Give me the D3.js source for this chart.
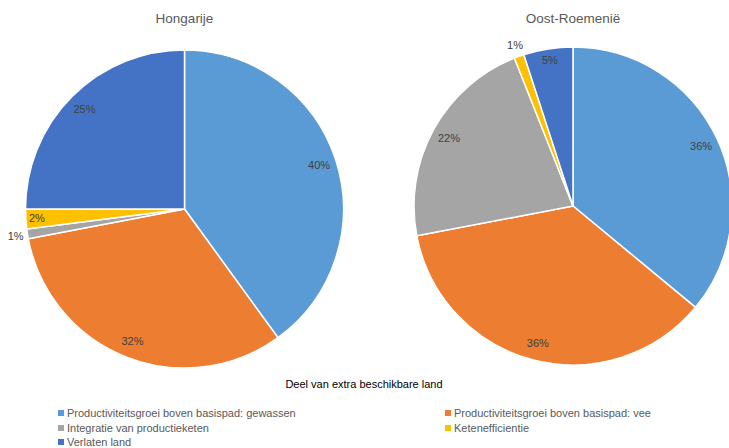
<!DOCTYPE html>
<html>
<head>
<meta charset="utf-8">
<script src="https://cdn.jsdelivr.net/npm/d3@7"></script>
<style>
  html, body { margin: 0; padding: 0; background: #fff; }
  svg { display: block; font-family: "Liberation Sans", Arial, sans-serif; }
</style>
</head>
<body>
<svg id="chart" width="729" height="448"></svg>
<script>
// Categories and shares (%) of extra available land per region
const categories = [
  "Productiviteitsgroei boven basispad: gewassen",
  "Productiviteitsgroei boven basispad: vee",
  "Integratie van productieketen",
  "Ketenefficientie",
  "Verlaten land"
];
const regions = ["Hongarije", "Oost-Roemenië"];
const hongarijeValues = [40, 32, 1, 2, 25];
const oostRoemenieValues = [36, 36, 22, 1, 5];
const legendTitle = "Deel van extra beschikbare land";

const colors = ["#5B9BD5", "#ED7D31", "#A5A5A5", "#FFC000", "#4472C4"];

const svg = d3.select("#chart");
const color = d3.scaleOrdinal().domain(categories).range(colors);

const radius = 159;
const pies = [
  { name: regions[0], values: hongarijeValues, cx: 184.5, cy: 209 },
  { name: regions[1], values: oostRoemenieValues, cx: 573, cy: 206 }
];

const pie = d3.pie().sort(null).value(d => d.value);
const arc = d3.arc().innerRadius(0).outerRadius(radius);

pies.forEach(p => {
  const data = categories.map((c, i) => ({ cat: c, value: p.values[i] }));
  const g = svg.append("g").attr("transform", `translate(${p.cx},${p.cy})`);

  const arcs = pie(data);
  g.selectAll("path")
    .data(arcs)
    .join("path")
    .attr("d", arc)
    .attr("fill", d => color(d.data.cat))
    .attr("stroke", "#fff")
    .attr("stroke-width", 1.5)
    .attr("stroke-linejoin", "round");

  // data labels: inside near the rim, tiny slices pushed outside
  g.selectAll("text.lbl")
    .data(arcs)
    .join("text")
    .attr("class", "lbl")
    .attr("transform", d => {
      const a = (d.startAngle + d.endAngle) / 2;
      const v = d.data.value;
      const r = v <= 1 ? radius + 12 : (v < 10 ? radius * 0.93 : radius * 0.89);
      return `translate(${Math.sin(a) * r},${-Math.cos(a) * r})`;
    })
    .attr("text-anchor", "middle")
    .attr("dominant-baseline", "central")
    .attr("font-size", 11)
    .attr("fill", "#404040")
    .text(d => d.data.value + "%");

  svg.append("text")
    .attr("x", p.cx)
    .attr("y", 18)
    .attr("text-anchor", "middle")
    .attr("dominant-baseline", "central")
    .attr("font-size", 13.5)
    .attr("fill", "#595959")
    .text(p.name);
});

// legend
svg.append("text")
  .attr("x", 364)
  .attr("y", 384)
  .attr("text-anchor", "middle")
  .attr("dominant-baseline", "central")
  .attr("font-size", 11)
  .attr("fill", "#000")
  .text(legendTitle);

const legendPos = [
  { x: 58, y: 413 }, { x: 445, y: 413 },
  { x: 58, y: 428 }, { x: 445, y: 428 },
  { x: 58, y: 442 }
];
const legend = svg.append("g")
  .selectAll("g")
  .data(categories)
  .join("g")
  .attr("transform", (d, i) => `translate(${legendPos[i].x},${legendPos[i].y})`);

legend.append("rect")
  .attr("x", 0).attr("y", -3)
  .attr("width", 6).attr("height", 6)
  .attr("fill", d => color(d));

legend.append("text")
  .attr("x", 9)
  .attr("y", 0)
  .attr("dominant-baseline", "central")
  .attr("font-size", 11)
  .attr("fill", "#595959")
  .text(d => d);
</script>
</body>
</html>
